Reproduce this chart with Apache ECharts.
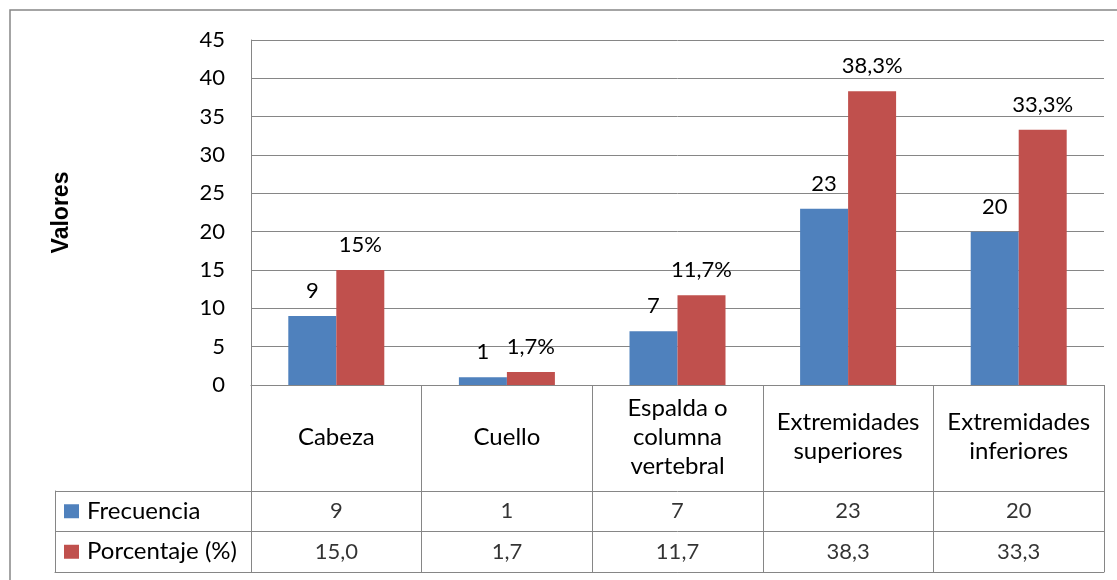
<!DOCTYPE html>
<html>
<head>
<meta charset="utf-8">
<script src="https://cdn.jsdelivr.net/npm/echarts@6/dist/echarts.min.js"></script>
<style>
  html, body { margin: 0; padding: 0; background: #fff; }
  #chart { width: 1117px; height: 580px; }
</style>
</head>
<body>
<div id="chart"></div>
<script>
// datos
const categorias = ['Cabeza', 'Cuello', 'Espalda o\ncolumna\nvertebral', 'Extremidades\nsuperiores', 'Extremidades\ninferiores'];
const frecuencia = [9, 1, 7, 23, 20];
const porcentaje = [15.0, 1.7, 11.7, 38.3, 33.3];
const filas = ['Frecuencia', 'Porcentaje (%)'];
const yMin = 0, yMax = 45, yStep = 5;

const azul = '#4F81BD';
const rojo = '#C0504D';
const gris = '#868686';
const fuente = 'Lato';

const coma = v => v.toFixed(1).replace('.', ',');

const chart = echarts.init(document.getElementById('chart'));
const option = {
  animation: false,
  textStyle: { fontFamily: fuente, color: '#000' },
  graphic: [
    {
      type: 'rect',
      shape: { x: 10, y: 10, width: 1200, height: 700 },
      style: { fill: 'none', stroke: gris, lineWidth: 1.5 },
      silent: true
    }
  ],
  grid: [
    { left: 251, right: 13, top: 40, height: 345 },
    { left: 251, right: 13, top: 491, height: 81 },
    { left: 55, width: 196, top: 491, height: 81 }
  ],
  xAxis: [
    {
      type: 'category',
      gridIndex: 0,
      data: categorias,
      axisLine: { show: true, lineStyle: { color: gris } },
      axisTick: { show: true, length: 187, lineStyle: { color: gris } },
      axisLabel: {
        margin: 52,
        verticalAlign: 'middle',
        fontSize: 24,
        lineHeight: 29,
        color: '#000',
        fontFamily: fuente,
        interval: 0
      },
      splitLine: { show: false }
    },
    {
      type: 'category',
      gridIndex: 1,
      data: categorias,
      axisLine: { show: true, lineStyle: { color: gris } },
      axisTick: { show: false },
      axisLabel: { show: false }
    },
    {
      type: 'category',
      gridIndex: 2,
      data: [''],
      axisLine: { show: true, lineStyle: { color: gris } },
      axisTick: { show: false },
      axisLabel: { show: false }
    }
  ],
  yAxis: [
    {
      type: 'value',
      gridIndex: 0,
      min: yMin,
      max: yMax,
      interval: yStep,
      name: 'Valores',
      nameLocation: 'middle',
      nameRotate: 90,
      nameGap: 178,
      nameTextStyle: { fontSize: 23, fontWeight: 'bold', fontFamily: 'Liberation Sans', color: '#000' },
      axisLine: { show: true, lineStyle: { color: gris } },
      axisTick: { show: false },
      axisLabel: { fontSize: 22, margin: 26, color: '#000', fontFamily: fuente },
      splitLine: { show: true, lineStyle: { color: gris, width: 1 } }
    },
    {
      type: 'category',
      gridIndex: 1,
      data: filas,
      inverse: true,
      axisLine: { show: false },
      axisTick: { show: false },
      axisLabel: { show: false },
      splitLine: { show: true, lineStyle: { color: gris } }
    },
    {
      type: 'category',
      gridIndex: 2,
      data: filas,
      inverse: true,
      axisLine: { show: true, lineStyle: { color: gris } },
      axisTick: { show: false },
      splitLine: { show: true, lineStyle: { color: gris } },
      axisLabel: {
        inside: true,
        margin: 9,
        align: 'left',
        fontSize: 24,
        color: '#000',
        fontFamily: fuente,
        formatter: (v, i) => (i === 0 ? '{a|}' : '{b|}') + '{t|' + v + '}',
        rich: {
          a: { width: 15, height: 14, backgroundColor: azul },
          b: { width: 15, height: 14, backgroundColor: rojo },
          t: { fontSize: 24, fontFamily: fuente, color: '#000', padding: [0, 0, 0, 8] }
        }
      }
    }
  ],
  series: [
    {
      name: 'Frecuencia',
      type: 'bar',
      xAxisIndex: 0,
      yAxisIndex: 0,
      data: frecuencia,
      barWidth: 48,
      barGap: '0%',
      itemStyle: { color: azul },
      label: {
        show: true,
        position: 'top',
        distance: 14,
        fontSize: 22,
        color: '#000',
        fontFamily: fuente
      }
    },
    {
      name: 'Porcentaje (%)',
      type: 'bar',
      xAxisIndex: 0,
      yAxisIndex: 0,
      data: porcentaje,
      barWidth: 48,
      barGap: '0%',
      itemStyle: { color: rojo },
      label: {
        show: true,
        position: 'top',
        distance: 14,
        fontSize: 22,
        color: '#000',
        fontFamily: fuente,
        formatter: p => (Number.isInteger(p.value) ? p.value : coma(p.value)) + '%'
      }
    },
    {
      type: 'scatter',
      xAxisIndex: 1,
      yAxisIndex: 1,
      symbolSize: 1,
      itemStyle: { color: 'rgba(0,0,0,0)' },
      data: frecuencia.map((v, i) => [i, 0, v]),
      label: {
        show: true,
        position: 'inside',
        fontSize: 22,
        color: '#000',
        fontFamily: fuente,
        formatter: p => String(p.value[2])
      }
    },
    {
      type: 'scatter',
      xAxisIndex: 1,
      yAxisIndex: 1,
      symbolSize: 1,
      itemStyle: { color: 'rgba(0,0,0,0)' },
      data: porcentaje.map((v, i) => [i, 1, v]),
      label: {
        show: true,
        position: 'inside',
        fontSize: 22,
        color: '#000',
        fontFamily: fuente,
        formatter: p => coma(p.value[2])
      }
    }
  ]
};
chart.setOption(option);
</script>
</body>
</html>
